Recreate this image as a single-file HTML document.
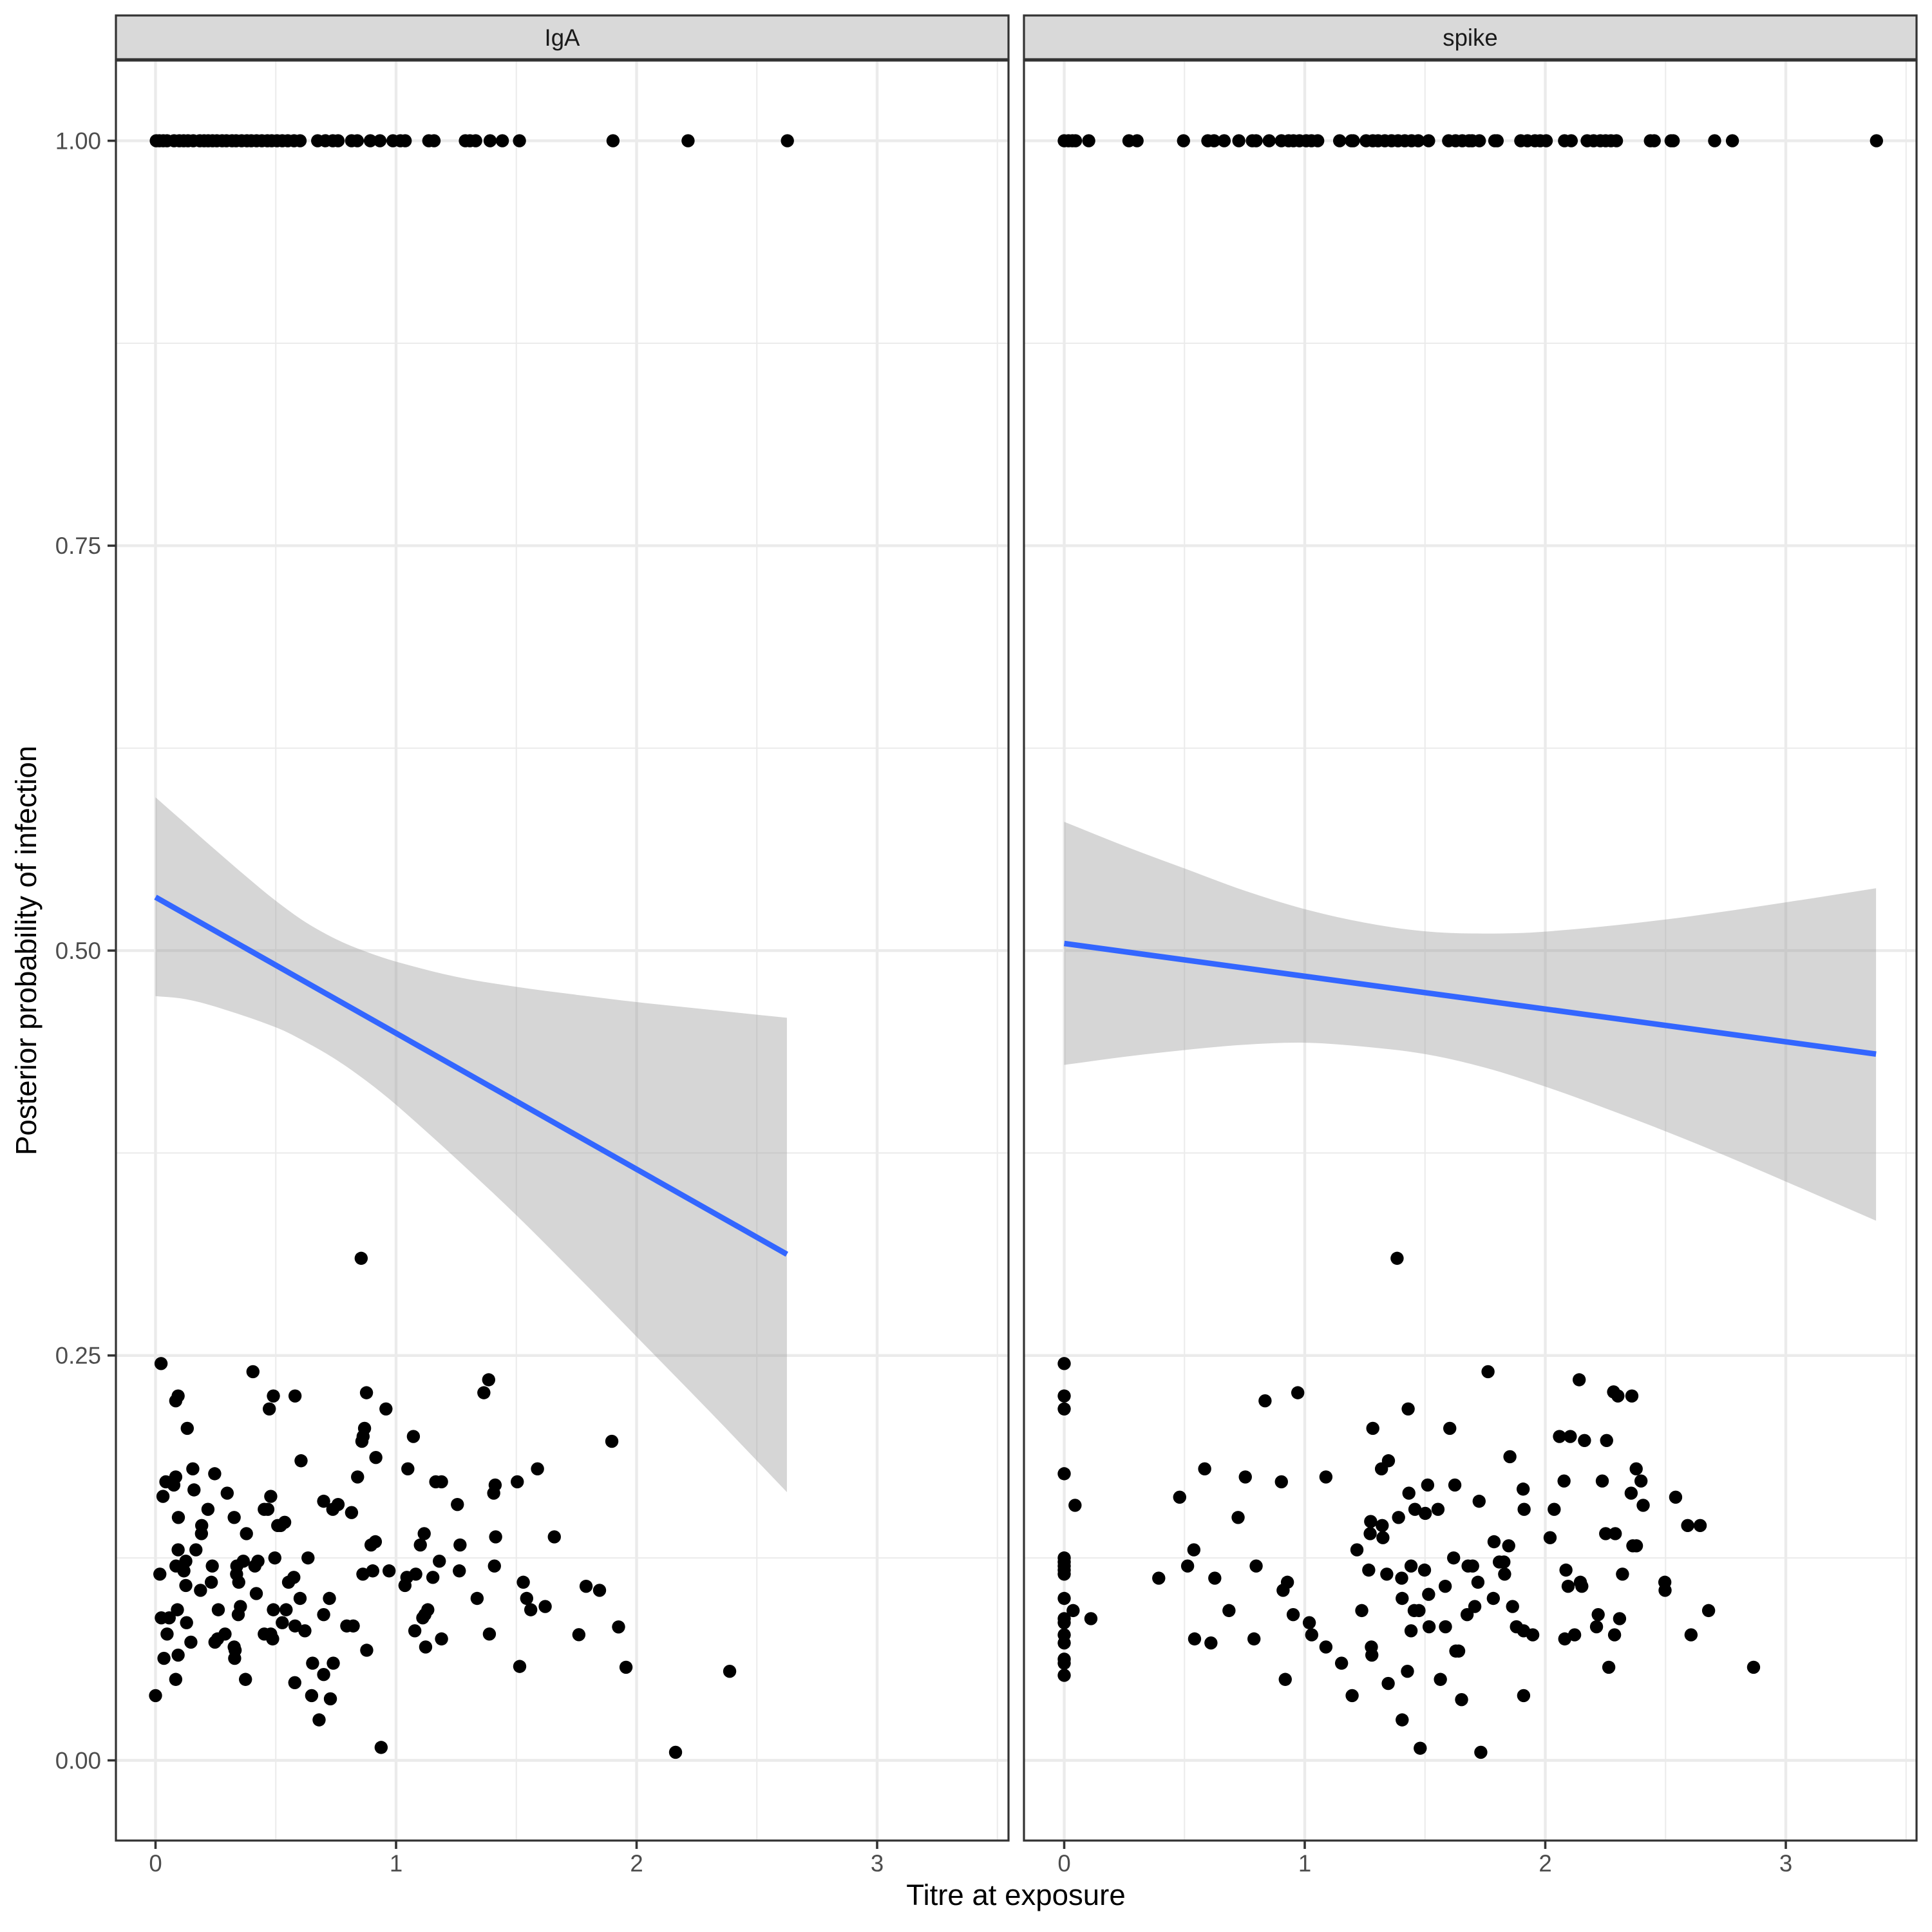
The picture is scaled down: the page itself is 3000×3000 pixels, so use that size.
<!DOCTYPE html>
<html lang="en">
<head>
<meta charset="utf-8">
<title>Posterior probability of infection vs titre at exposure</title>
<style>
html,body{margin:0;padding:0;background:#fff;}
svg{display:block;}
text{font-family:"Liberation Sans",Arial,sans-serif;}
</style>
</head>
<body>
<svg id="chart" xmlns="http://www.w3.org/2000/svg" width="3000" height="3000" viewBox="0 0 3000 3000">
<rect x="0" y="0" width="3000" height="3000" fill="#ffffff"/>
<text x="1577.5" y="2958" font-size="45.6" text-anchor="middle" fill="#000000">Titre at exposure</text>
<text x="0" y="0" transform="translate(56 1476) rotate(-90)" font-size="45.6" text-anchor="middle" fill="#000000">Posterior probability of infection</text>
</svg>
<script>
const xTicks = [0, 1, 2, 3];
const xMinorTicks = [0.5, 1.5, 2.5, 3.5];
const yTicks = [0, 0.25, 0.5, 0.75, 1];
const yTickLabels = ["0.00", "0.25", "0.50", "0.75", "1.00"];
const yMinorTicks = [0.125, 0.375, 0.625, 0.875];

const igaLowTitre = [.023,.405,1.385,1.365,.877,.094,.084,.49,.58,.473,.958,.132,.869,.863,.858,1.072,.916,.605,.155,1.049,1.588,.246,.84,.084,.043,.076,1.165,1.189,1.504,1.412,1.406,.16,.298,.031,.479,.699,.759,.737,.452,.467,1.255,.218,.815,.095,.327,.537,.508,.52,.192,.191,.378,1.117,1.414,.914,.896,1.101,1.266,.094,.168,.496,.634,.126,.365,.426,1.18,.085,.236,.338,.413,1.409,.118,.903,.971,1.263,.018,.337,.862,1.082,.575,1.045,1.153,.232,.346,.553,1.529,.126,1.037,.187,.419,1.543,.601,.723,1.337,.091,.261,.353,.49,.543,1.132,1.56,1.62,1.12,1.111,.344,.699,.024,.057,.129,.527,.58,.795,.822,.621,1.078,.048,.289,.452,.479,1.388,.258,.487,1.189,.247,.147,1.123,.327,.331,.878,.094,.329,.035,.653,.739,1.514,.699,.084,.374,.579,0,.649,.727,.68,.938,1.897,1.658,1.79,1.846,1.76,1.925,1.956,2.387,2.162,.855];
const igaLowProb = [.245,.24,.235,.227,.227,.225,.222,.225,.225,.217,.217,.205,.205,.2,.197,.2,.187,.185,.18,.18,.18,.177,.175,.175,.172,.17,.172,.172,.172,.17,.165,.167,.165,.163,.163,.16,.158,.155,.155,.155,.158,.155,.153,.15,.15,.147,.145,.145,.145,.14,.14,.14,.138,.135,.133,.133,.133,.13,.13,.125,.125,.123,.123,.123,.123,.12,.12,.12,.12,.12,.117,.117,.117,.117,.115,.115,.115,.115,.113,.113,.113,.11,.11,.11,.11,.108,.108,.105,.103,.1,.1,.1,.1,.093,.093,.095,.093,.093,.093,.093,.095,.09,.088,.09,.09,.088,.088,.085,.085,.083,.083,.083,.08,.08,.078,.078,.078,.078,.078,.075,.075,.075,.073,.073,.07,.07,.068,.068,.065,.063,.063,.06,.06,.058,.053,.05,.05,.048,.04,.04,.038,.025,.008,.197,.138,.1075,.105,.0776,.0824,.0575,.055,.005,.31];
const igaInfectedTitre = [.003,.016,.032,.048,.077,.099,.117,.135,.157,.184,.202,.219,.237,.255,.277,.295,.318,.335,.358,.38,.398,.42,.442,.465,.483,.505,.527,.55,.576,.601,.674,.706,.737,.759,.815,.839,.893,.933,.987,1.018,1.038,1.136,1.158,1.288,1.307,1.331,1.391,1.442,1.513,1.902,2.214,2.627];

const spikeLowTitre = [0,0,0,.835,.971,1.43,1.283,1.603,1.348,1.319,.584,0,.753,.903,1.088,1.511,1.624,1.433,.48,.045,1.458,1.501,1.554,.723,1.39,1.274,1.322,1.272,1.325,.539,1.217,1.619,0,0,0,0,0,.513,.798,1.442,1.266,1.498,1.341,1.679,.393,.626,1.403,.928,.91,1.584,1.405,1.515,0,.037,.685,1.237,1.455,1.475,1.675,0,0,.111,.952,1.019,1.029,1.442,1.517,1.585,0,0,.542,.61,.789,1.088,1.277,1.279,1.628,1.64,0,0,0,1.153,1.427,1.564,.919,1.347,1.197,1.652,1.405,1.48,1.762,2.141,2.284,2.302,2.36,2.059,2.104,2.163,2.255,1.853,2.378,2.078,2.237,2.398,1.908,2.357,2.542,1.725,2.407,1.912,2.037,2.592,2.644,2.251,2.291,2.02,1.787,1.848,2.364,2.379,1.809,1.828,1.698,1.831,2.086,2.321,2.146,2.497,1.72,2.095,2.152,2.498,1.784,1.707,1.864,2.22,2.679,2.309,1.88,1.91,1.948,2.213,2.122,2.081,2.288,2.606,2.264,2.866,1.91,1.732,1.384];
const spikeLowProb = [.245,.225,.217,.222,.227,.217,.205,.205,.185,.18,.18,.177,.175,.172,.175,.17,.17,.165,.1625,.1575,.155,.1525,.155,.15,.15,.1475,.145,.14,.1375,.13,.13,.125,.125,.1225,.12,.1175,.115,.12,.12,.12,.1175,.1175,.115,.12,.1125,.1125,.1125,.11,.105,.1075,.1,.1025,.1,.0925,.0925,.0925,.0925,.0925,.09,.0875,.085,.0875,.09,.085,.0775,.08,.0825,.0825,.0775,.0725,.075,.0725,.075,.07,.07,.065,.0675,.0675,.0625,.06,.0525,.06,.055,.05,.05,.0475,.04,.0375,.025,.0075,.24,.235,.2275,.225,.225,.2,.2,.1975,.1975,.1875,.18,.1725,.1725,.1725,.1675,.165,.1625,.16,.1575,.155,.155,.145,.145,.14,.14,.1375,.135,.1325,.1325,.1325,.1225,.1225,.12,.115,.1175,.115,.11,.11,.11,.1075,.1075,.105,.1,.095,.095,.09,.0925,.0875,.0825,.08,.0775,.0825,.0775,.075,.0775,.0775,.0575,.0575,.04,.005,.31];
const spikeInfectedTitre = [0,.018,.034,.047,.102,.269,.303,.496,.597,.623,.665,.726,.782,.798,.852,.903,.933,.953,.978,1.006,1.028,1.054,1.145,1.194,1.202,1.255,1.283,1.305,1.333,1.361,1.388,1.416,1.444,1.472,1.515,1.598,1.627,1.655,1.683,1.696,1.726,1.79,1.8,1.898,1.926,1.957,1.979,2.004,2.08,2.108,2.174,2.201,2.229,2.251,2.273,2.296,2.437,2.453,2.523,2.532,2.704,2.778,3.377];

const igaFitTitre = [0, 2.625];
const igaFitProb = [.533, .3125];
const igaBandUpperTitre = [0,.125,.25,.375,.5,.625,.75,.875,1,1.25,1.5,1.75,2,2.3,2.625];
const igaBandUpperProb = [.5946,.5783,.562,.546,.5307,.5174,.5071,.4993,.4932,.4838,.4776,.4727,.4682,.4635,.4585];
const igaBandLowerTitre = [0,.125,.25,.5,.625,.75,.875,1,1.25,1.5,1.75,2,2.3,2.625];
const igaBandLowerProb = [.4719,.470,.4653,.4526,.4435,.4327,.4197,.4048,.3715,.3366,.2995,.2616,.216,.1656];

const spikeFitTitre = [0, 3.375];
const spikeFitProb = [.5044, .4361];
const spikeBandUpperTitre = [0,.25,.5,.75,1,1.25,1.5,1.74,2,2.5,3,3.375];
const spikeBandUpperProb = [.5795,.5646,.5507,.537,.5256,.5172,.5119,.5105,.5117,.5192,.5298,.5385];
const spikeBandLowerTitre = [0,.25,.5,.75,1,1.25,1.5,1.75,2,2.25,2.5,2.75,3,3.375];
const spikeBandLowerProb = [.4294,.4344,.4386,.4419,.4431,.4406,.4361,.4277,.416,.4026,.3884,.3733,.3574,.3332];

const svg = document.getElementById('chart');
const NS = 'http://www.w3.org/2000/svg';
const PANEL_TOP = 94, PANEL_BOTTOM = 2858, PANEL_WIDTH = 1386, STRIP_TOP = 24, STRIP_BOTTOM = 92;
const X_UNIT = 373.5;

function yScale(v) { return 2733.5 - 2514.9 * v; }

function make(tag, attrs, parent) {
  const el = document.createElementNS(NS, tag);
  for (const k in attrs) el.setAttribute(k, attrs[k]);
  parent.appendChild(el);
  return el;
}

function pathFrom(xs, ys, xScale) {
  return xs.map((t, i) => (i ? 'L' : 'M') + xScale(t).toFixed(1) + ' ' + yScale(ys[i]).toFixed(1)).join(' ');
}

function curveSegments(xs, ys, xScale) {
  const px = xs.map(xScale);
  const py = ys.map(yScale);
  const n = px.length;
  const slope = [];
  for (let i = 0; i < n; i++) {
    const a = Math.max(i - 1, 0), b = Math.min(i + 1, n - 1);
    slope.push((py[b] - py[a]) / (px[b] - px[a]));
  }
  let d = '';
  for (let i = 0; i < n - 1; i++) {
    const dx = (px[i + 1] - px[i]) / 3;
    d += ' C' + (px[i] + dx).toFixed(1) + ' ' + (py[i] + slope[i] * dx).toFixed(1) + ' ' +
      (px[i + 1] - dx).toFixed(1) + ' ' + (py[i + 1] - slope[i + 1] * dx).toFixed(1) + ' ' +
      px[i + 1].toFixed(1) + ' ' + py[i + 1].toFixed(1);
  }
  return d;
}

function bandPath(upX, upY, loX, loY, xScale) {
  const revX = loX.slice().reverse();
  const revY = loY.slice().reverse();
  return 'M' + xScale(upX[0]).toFixed(1) + ' ' + yScale(upY[0]).toFixed(1) +
    curveSegments(upX, upY, xScale) +
    ' L' + xScale(revX[0]).toFixed(1) + ' ' + yScale(revY[0]).toFixed(1) +
    curveSegments(revX, revY, xScale) + ' Z';
}

function drawPanel(cfg) {
  const xScale = t => cfg.x0 + X_UNIT * t;
  const left = cfg.left, right = cfg.left + PANEL_WIDTH;

  const g = make('g', {}, svg);
  
  

  const clipId = 'clip-' + cfg.key;
  const defs = make('defs', {}, g);
  const clip = make('clipPath', { id: clipId }, defs);
  make('rect', { x: left, y: PANEL_TOP, width: PANEL_WIDTH, height: PANEL_BOTTOM - PANEL_TOP }, clip);

  const grid = make('g', { 'clip-path': 'url(#' + clipId + ')' }, g);
  
  

  yMinorTicks.forEach(v => {
    const l = make('line', { x1: left, x2: right, y1: yScale(v), y2: yScale(v), stroke: '#ebebeb', 'stroke-width': 2 }, grid);
    
    
  });
  xMinorTicks.forEach(t => {
    const l = make('line', { x1: xScale(t), x2: xScale(t), y1: PANEL_TOP, y2: PANEL_BOTTOM, stroke: '#ebebeb', 'stroke-width': 2 }, grid);
    
    
  });
  yTicks.forEach(v => {
    const l = make('line', { x1: left, x2: right, y1: yScale(v), y2: yScale(v), stroke: '#ebebeb', 'stroke-width': 4.4 }, grid);
    
    
  });
  xTicks.forEach(t => {
    const l = make('line', { x1: xScale(t), x2: xScale(t), y1: PANEL_TOP, y2: PANEL_BOTTOM, stroke: '#ebebeb', 'stroke-width': 4.4 }, grid);
    
    
  });

  const pts = make('g', {}, g);
  
  
  cfg.lowTitre.forEach((t, i) => {
    const c = make('circle', { cx: xScale(t), cy: yScale(cfg.lowProb[i]), r: 10.2, fill: '#000000' }, pts);
    
    
  });
  cfg.infectedTitre.forEach(t => {
    const c = make('circle', { cx: xScale(t), cy: yScale(1), r: 10.2, fill: '#000000' }, pts);
    
    
  });

  const band = make('path', { d: bandPath(cfg.upX, cfg.upY, cfg.loX, cfg.loY, xScale), fill: '#999999', 'fill-opacity': 0.4, stroke: 'none' }, g);
  
  

  const fit = make('path', { d: pathFrom(cfg.fitX, cfg.fitY, xScale), fill: 'none', stroke: '#3366ff', 'stroke-width': 8.6 }, g);
  
  

  const border = make('rect', { x: left, y: PANEL_TOP, width: PANEL_WIDTH, height: PANEL_BOTTOM - PANEL_TOP, fill: 'none', stroke: '#333333', 'stroke-width': 3.2 }, g);
  
  

  const strip = make('rect', { x: left, y: STRIP_TOP, width: PANEL_WIDTH, height: STRIP_BOTTOM - STRIP_TOP, fill: '#d9d9d9', stroke: '#333333', 'stroke-width': 3.2 }, g);
  
  

  const stripText = make('text', { x: left + PANEL_WIDTH / 2, y: 71, 'font-size': 36.6, 'text-anchor': 'middle', fill: '#1a1a1a' }, g);
  stripText.textContent = cfg.title;
  
  

  xTicks.forEach(t => {
    const tick = make('line', { x1: xScale(t), x2: xScale(t), y1: PANEL_BOTTOM, y2: PANEL_BOTTOM + 13, stroke: '#333333', 'stroke-width': 3.6 }, g);
    
    
    const lab = make('text', { x: xScale(t), y: 2906, 'font-size': 36.6, 'text-anchor': 'middle', fill: '#4d4d4d' }, g);
    lab.textContent = String(t);
    
    
  });

  if (cfg.showY) {
    yTicks.forEach((v, i) => {
      const tick = make('line', { x1: left - 13, x2: left, y1: yScale(v), y2: yScale(v), stroke: '#333333', 'stroke-width': 3.6 }, g);
      
      
      const lab = make('text', { x: left - 23, y: yScale(v) + 12.8, 'font-size': 36.6, 'text-anchor': 'end', fill: '#4d4d4d' }, g);
      lab.textContent = yTickLabels[i];
      
      
    });
  }
}

drawPanel({
  key: 'iga', title: 'IgA', left: 180, x0: 241.5, showY: true,
  lowTitre: igaLowTitre, lowProb: igaLowProb, infectedTitre: igaInfectedTitre,
  upX: igaBandUpperTitre, upY: igaBandUpperProb, loX: igaBandLowerTitre, loY: igaBandLowerProb,
  fitX: igaFitTitre, fitY: igaFitProb
});
drawPanel({
  key: 'spike', title: 'spike', left: 1590, x0: 1652.5, showY: false,
  lowTitre: spikeLowTitre, lowProb: spikeLowProb, infectedTitre: spikeInfectedTitre,
  upX: spikeBandUpperTitre, upY: spikeBandUpperProb, loX: spikeBandLowerTitre, loY: spikeBandLowerProb,
  fitX: spikeFitTitre, fitY: spikeFitProb
});
</script>
</body>
</html>
